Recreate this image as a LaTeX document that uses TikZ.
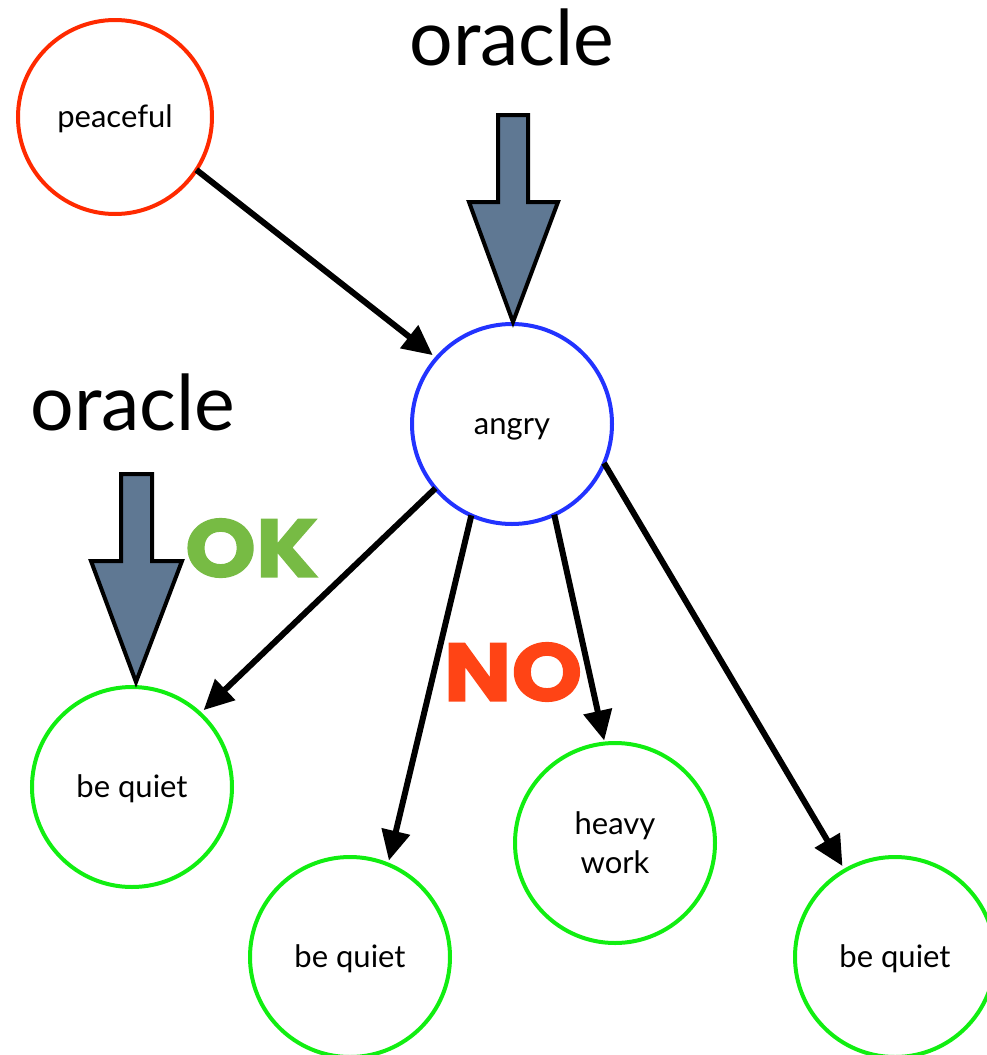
\documentclass[tikz,border=0pt]{standalone}
\usepackage{fontspec}
\setmainfont{Lato}
\newfontfamily\heavyfont{Poppins}[FakeBold=1.5]
\usetikzlibrary{arrows.meta}
\definecolor{peacered}{HTML}{FF2A00}
\definecolor{angryblue}{HTML}{2233FF}
\definecolor{quietgreen}{HTML}{11EE11}
\definecolor{oraclefill}{HTML}{5F7893}
\definecolor{okgreen}{HTML}{77BB44}
\definecolor{nored}{HTML}{FF4415}
\begin{document}
\begin{tikzpicture}[x=1pt,y=-1pt,
  state/.style={circle,line width=4pt,minimum size=200pt,inner sep=0pt,outer sep=0pt,draw,
    font=\fontsize{31}{39}\selectfont,align=center},
  oneline/.style={text height=27pt,text depth=7pt},
  conn/.style={line width=6pt,-{Triangle[length=30pt,width=28pt]}},
  blockarrow/.style={draw=black,line width=4pt,fill=oraclefill,line join=miter,miter limit=10},
  biglabel/.style={font=\fontsize{77}{90}\selectfont,inner sep=0pt,anchor=base},
  verdict/.style={font=\heavyfont\bfseries\fontsize{82}{90}\selectfont,inner sep=0pt}]
\useasboundingbox (0,0) rectangle (987,1055);

\node[state,oneline,draw=peacered,minimum size=194pt] (peaceful) at (115,117) {peaceful};
\node[state,oneline,draw=angryblue] (angry) at (512,424) {angry};
\node[state,oneline,draw=quietgreen] (bq1) at (132,787) {be quiet};
\node[state,oneline,draw=quietgreen] (bq2) at (350,957) {be quiet};
\node[state,draw=quietgreen] (heavy) at (615,843) {heavy\\work};
\node[state,oneline,draw=quietgreen] (bq3) at (895,957) {be quiet};

\node[biglabel] (oracletop) at (512,65) {oracle};
\node[biglabel] (oracleleft) at (133,430) {oracle};

\draw[blockarrow] (498,115) -- (528,115) -- (528,202) -- (558,202) -- (513,322)
  -- (469,202) -- (498,202) -- cycle;
\draw[blockarrow] (121,474) -- (152,474) -- (152,561) -- (182,561) -- (136,682)
  -- (91,561) -- (121,561) -- cycle;

\node[verdict,text=okgreen] (ok) at (252,548) {\scalebox{1.1}[1]{OK}};
\node[verdict,text=nored] (no) at (513,672) {\scalebox{1.1}[1]{NO}};

\draw[conn] (peaceful.-33) -- ([shift={(139.6:5pt)}]angry.139.6);
\draw[conn] (angry.220.4) -- ([shift={(47.6:5pt)}]bq1.47.6);
\draw[conn] (angry.246.1) -- ([shift={(68.6:4pt)}]bq2.68.6);
\draw[conn] (angry.-65.6) -- ([shift={(96.6:3pt)}]heavy.96.6);
\draw[conn] (angry.-23.3) -- ([shift={(120:5pt)}]bq3.120);
\end{tikzpicture}
\end{document}
